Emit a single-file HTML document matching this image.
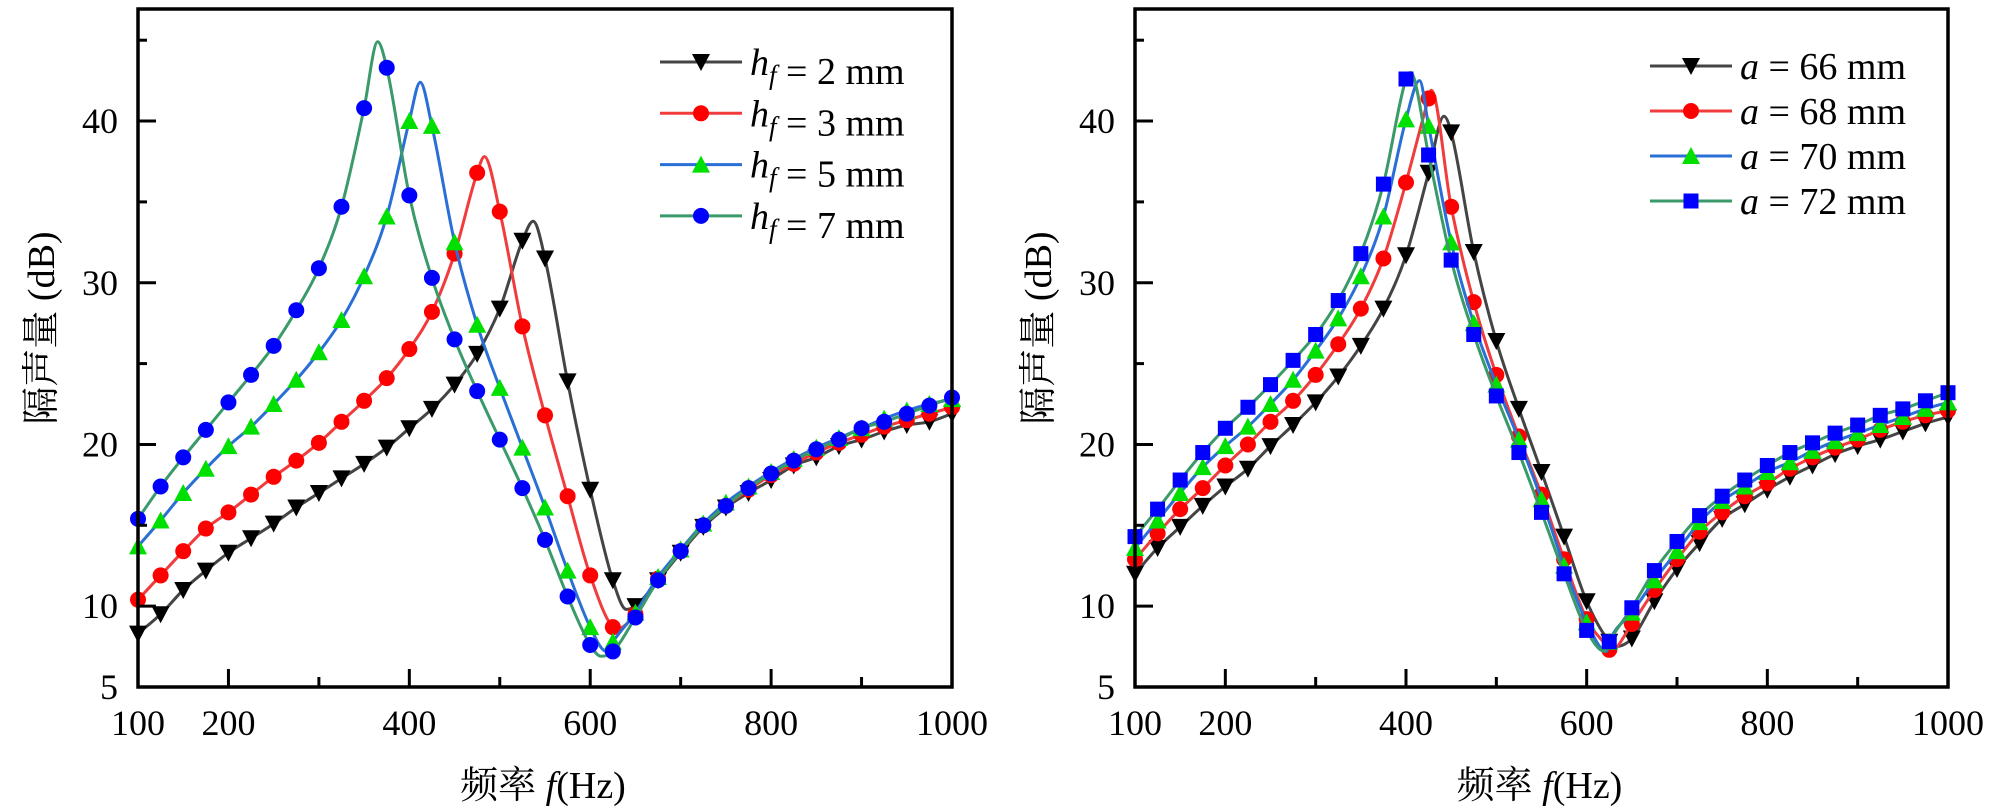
<!DOCTYPE html>
<html><head><meta charset="utf-8">
<style>
html,body{margin:0;padding:0;background:#fff;}
svg{display:block;}
text{font-family:"Liberation Serif","Noto Serif CJK SC","Noto Sans CJK SC",serif;fill:#000;}
</style></head>
<body>
<svg id="chart" width="2000" height="812" viewBox="0 0 2000 812" xmlns="http://www.w3.org/2000/svg"></svg>
<script>
// ---- data ----
const xTicks = [100,200,400,600,800,1000];
const xMinor = [300,500,700,900];
const yTicks = [5,10,20,30,40];
const yMinor = [15,25,35,45];
const freqs = [100,125,150,175,200,225,250,275,300,325,350,375,400,425,450,475,500,525,550,575,600,625,650,675,700,725,750,775,800,825,850,875,900,925,950,975,1000];

// left chart: h_f
const leftLabels = ["2 mm","3 mm","5 mm","7 mm"];
const hf2 = [8.3,9.5,11.0,12.2,13.3,14.2,15.1,16.1,17.0,17.9,18.8,19.8,21.0,22.2,23.7,25.6,28.4,32.6,31.5,23.9,17.2,11.6,10.0,11.6,13.3,14.9,16.1,17.0,17.8,18.7,19.2,19.9,20.3,20.8,21.2,21.4,21.9];
const hf3 = [10.4,11.9,13.4,14.8,15.8,16.9,18.0,19.0,20.1,21.4,22.7,24.1,25.9,28.2,31.8,36.8,34.4,27.3,21.8,16.8,11.9,8.7,9.5,11.7,13.4,15.0,16.2,17.2,18.1,18.8,19.5,20.1,20.6,21.1,21.5,21.9,22.3];
const hf5 = [13.7,15.3,17.0,18.5,19.9,21.1,22.5,24.0,25.7,27.7,30.4,34.1,40.0,39.7,32.5,27.4,23.5,19.8,16.1,12.2,8.7,7.8,9.6,11.8,13.5,15.1,16.4,17.4,18.3,19.1,19.8,20.4,21.0,21.6,22.1,22.5,22.8];
const hf7 = [15.4,17.4,19.2,20.9,22.6,24.3,26.1,28.3,30.9,34.7,40.8,43.3,35.4,30.3,26.5,23.3,20.3,17.3,14.1,10.6,7.6,7.2,9.3,11.6,13.4,15.0,16.2,17.3,18.2,19.0,19.7,20.3,21.0,21.4,21.9,22.4,22.9];
// peak / minimum points between markers [freq, dB]
const hf2Extra = [[537,33.8],[640,9.8]];
const hf3Extra = [[483,37.8],[630,8.6]];
const hf5Extra = [[412,42.4],[618,7.2]];
const hf7Extra = [[365,44.9],[612,6.9]];

// right chart: a
const rightLabels = ["66 mm","68 mm","70 mm","72 mm"];
const a66 = [12.0,13.6,14.9,16.2,17.4,18.5,19.9,21.2,22.6,24.2,26.1,28.4,31.7,36.8,39.3,31.9,26.4,22.2,18.3,14.3,10.3,7.8,8.0,10.3,12.3,13.9,15.4,16.3,17.2,18.0,18.7,19.4,19.9,20.3,20.8,21.3,21.7];
const a68 = [12.9,14.5,16.0,17.3,18.7,20.0,21.4,22.7,24.3,26.2,28.4,31.5,36.2,41.4,34.7,28.8,24.3,20.5,16.9,12.9,9.2,7.3,8.9,11.0,12.9,14.6,15.8,16.8,17.6,18.5,19.2,19.8,20.3,20.9,21.4,21.8,22.1];
const a70 = [13.6,15.3,17.0,18.6,19.9,21.1,22.5,24.0,25.8,27.8,30.4,34.1,40.1,39.7,32.5,27.5,23.7,20.3,16.6,12.5,9.0,7.8,9.6,11.6,13.4,15.2,16.5,17.4,18.3,18.9,19.6,20.2,20.7,21.2,21.7,22.2,22.6];
const a72 = [14.3,16.0,17.8,19.5,21.0,22.3,23.7,25.2,26.8,28.9,31.8,36.1,42.6,37.9,31.4,26.8,23.0,19.5,15.8,12.0,8.5,7.8,9.9,12.2,14.0,15.6,16.8,17.8,18.7,19.5,20.1,20.7,21.2,21.8,22.2,22.7,23.2];
const a66Extra = [[442,40.3],[632,7.5]];
const a68Extra = [[428,41.9],[626,7.2]];
const a70Extra = [[415,42.5],[622,7.2]];
const a72Extra = [[405,43.0],[620,7.2]];

// ---- rendering ----
const NS = "http://www.w3.org/2000/svg";
const svg = document.getElementById('chart');
function mk(tag, attrs, parent){
  const e = document.createElementNS(NS, tag);
  for (const k in attrs) e.setAttribute(k, attrs[k]);
  (parent||svg).appendChild(e);
  return e;
}
const styles = [
  {line:"#444444", fill:"#000000", marker:"down"},
  {line:"#f03c3c", fill:"#ff0000", marker:"circle"},
  {line:"#2a6fd6", fill:"#00e000", marker:"up"},
  {line:"#3a9a6a", fill:"#0000ff", marker:"circle"}
];
const stylesR = [
  {line:"#444444", fill:"#000000", marker:"down"},
  {line:"#f03c3c", fill:"#ff0000", marker:"circle"},
  {line:"#2a6fd6", fill:"#00e000", marker:"up"},
  {line:"#3a9a6a", fill:"#0000ff", marker:"square"}
];

function monotone(pts){
  const n = pts.length;
  const d = [], m = [];
  for (let i=0;i<n-1;i++) d.push((pts[i+1][1]-pts[i][1])/(pts[i+1][0]-pts[i][0]));
  m[0]=d[0]; m[n-1]=d[n-2];
  for (let i=1;i<n-1;i++){ m[i] = (d[i-1]*d[i]<=0)?0:(d[i-1]+d[i])/2; }
  for (let i=0;i<n-1;i++){
    if (d[i]===0){m[i]=0;m[i+1]=0;continue;}
    const a=m[i]/d[i], b=m[i+1]/d[i], s=a*a+b*b;
    if (s>9){const t=3/Math.sqrt(s); m[i]=t*a*d[i]; m[i+1]=t*b*d[i];}
  }
  let p = "M"+pts[0][0].toFixed(1)+","+pts[0][1].toFixed(1);
  for (let i=0;i<n-1;i++){
    const h = pts[i+1][0]-pts[i][0];
    p += " C"+(pts[i][0]+h/3).toFixed(1)+","+(pts[i][1]+m[i]*h/3).toFixed(1)+" "+(pts[i+1][0]-h/3).toFixed(1)+","+(pts[i+1][1]-m[i+1]*h/3).toFixed(1)+" "+pts[i+1][0].toFixed(1)+","+pts[i+1][1].toFixed(1);
  }
  return p;
}

function marker(g, type, cx, cy, fill){
  let e;
  if (type==="circle") e = mk('circle',{cx:cx,cy:cy,r:8,fill:fill},g);
  else if (type==="square") e = mk('rect',{x:cx-7.5,y:cy-7.5,width:15,height:15,fill:fill},g);
  else if (type==="down") e = mk('polygon',{points:(cx-9)+","+(cy-8)+" "+(cx+9)+","+(cy-8)+" "+cx+","+(cy+9),fill:fill},g);
  else e = mk('polygon',{points:(cx-9)+","+(cy+8)+" "+(cx+9)+","+(cy+8)+" "+cx+","+(cy-9),fill:fill},g);
  return e;
}

function drawChart(opt){
  const L=opt.left, R=opt.right, T=9, B=687;
  const xs = v => L + (v-100)/900*(R-L);
  const ys = v => B - (v-5)*16.17;
  const g = mk('g',{});
  
  
  opt.series.forEach((vals, si)=>{
    const st = opt.styles[si];
    const sg = mk('g',{},g);
    
    
    let pts = freqs.map((f,i)=>[f, vals[i]]).concat(opt.extras[si]);
    pts.sort((a,b)=>a[0]-b[0]);
    const path = mk('path',{d:monotone(pts.map(p=>[xs(p[0]),ys(p[1])])),fill:"none",stroke:st.line,"stroke-width":3},sg);
    
    
    freqs.forEach((f,i)=>{
      const m = marker(sg, st.marker, xs(f), ys(vals[i]), st.fill);
      
      
    });
  });
  const fr = mk('rect',{x:L,y:T,width:R-L,height:B-T,fill:"none",stroke:"#000","stroke-width":3.5},g);
  
  
  xTicks.forEach(v=>{
    const x=xs(v);
    if (v>100 && v<1000) mk('line',{x1:x,y1:B,x2:x,y2:B-18,stroke:"#000","stroke-width":3},g);
    const t = mk('text',{x:x,y:B+48,"text-anchor":"middle","font-size":36},g);
    t.textContent = v;
    
    
  });
  xMinor.forEach(v=>{ const x=xs(v); mk('line',{x1:x,y1:B,x2:x,y2:B-10,stroke:"#000","stroke-width":3},g); });
  yTicks.forEach(v=>{
    const y=ys(v);
    if (v>5) mk('line',{x1:L,y1:y,x2:L+18,y2:y,stroke:"#000","stroke-width":3},g);
    const t = mk('text',{x:L-20,y:y+12,"text-anchor":"end","font-size":36},g);
    t.textContent = v;
    
    
  });
  yMinor.forEach(v=>{ const y=ys(v); mk('line',{x1:L,y1:y,x2:L+9,y2:y,stroke:"#000","stroke-width":3},g); });
  const xt = mk('text',{x:(L+R)/2-2,y:798,"text-anchor":"middle","font-size":38},g);
  xt.innerHTML = '频率 <tspan font-style="italic">f</tspan>(Hz)';
  
  
  const yt = mk('text',{x:0,y:0,"text-anchor":"middle","font-size":38,transform:"translate("+(L-84)+",328) rotate(-90)"},g);
  yt.textContent = '隔声量 (dB)';
  
  
  const lg = mk('g',{},g);
  
  
  opt.labels.forEach((lab,i)=>{
    const y = opt.legY + i*opt.legDy;
    const st = opt.styles[i];
    const eg = mk('g',{},lg);
    
    
    mk('line',{x1:opt.legX,y1:y,x2:opt.legX+82,y2:y,stroke:st.line,"stroke-width":3},eg);
    marker(eg, st.marker, opt.legX+41, y, st.fill);
    const t = mk('text',{x:opt.legX+90,y:y+13,"font-size":38},eg);
    t.innerHTML = opt.prefix + ' = ' + lab;
  });
}

drawChart({name:'chart-hf', left:138, right:952, series:[hf2,hf3,hf5,hf7], extras:[hf2Extra,hf3Extra,hf5Extra,hf7Extra],
  keys:['hf2','hf3','hf5','hf7'], styles:styles, labels:leftLabels,
  prefix:'<tspan font-style="italic">h</tspan><tspan font-style="italic" font-size="27" dy="9">f</tspan><tspan dy="-9"></tspan>',
  legX:660, legY:62, legDy:51.3});
drawChart({name:'chart-a', left:1135, right:1948, series:[a66,a68,a70,a72], extras:[a66Extra,a68Extra,a70Extra,a72Extra],
  keys:['a66','a68','a70','a72'], styles:stylesR, labels:rightLabels,
  prefix:'<tspan font-style="italic">a</tspan>',
  legX:1650, legY:66, legDy:45});
</script>
</body></html>
